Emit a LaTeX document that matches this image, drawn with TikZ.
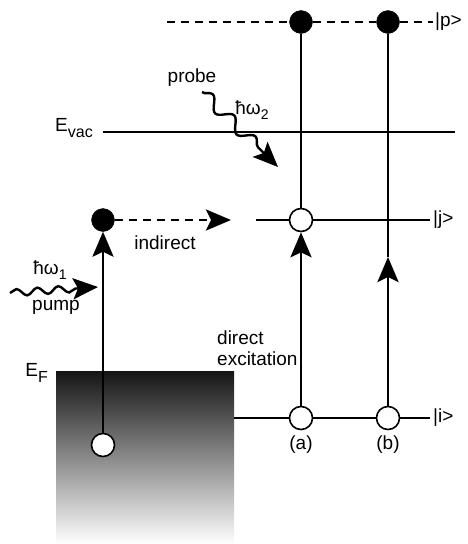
\documentclass[tikz,border=0pt]{standalone}
\usepackage{fontspec}
\setmainfont{Liberation Sans}
\usetikzlibrary{arrows.meta,decorations.pathmorphing,calc}
\newcommand{\lsub}[1]{\raisebox{-0.3em}{\fontsize{16}{16}\selectfont #1}}
\newcommand{\lsubs}[1]{\raisebox{-0.3em}{\fontsize{14}{14}\selectfont #1}}
\begin{document}
\begin{tikzpicture}[x=1pt,y=-1pt,
  lvl/.style={line width=2.8pt},
  dsh/.style={line width=2.8pt,dash pattern=on 8pt off 6pt},
  arrowtip/.style={-{Stealth[length=25pt,width=21pt,inset=5pt]}},
  full/.style={circle,fill=black,draw=black,minimum size=23pt,inner sep=0pt},
  hollow/.style={circle,fill=white,draw=black,line width=1.6pt,minimum size=23pt,inner sep=0pt},
  lbl/.style={font=\fontsize{19}{21}\selectfont, inner sep=0pt},
  wave/.style={line width=2.4pt,decorate}]
\useasboundingbox (0,0) rectangle (468,544);
% metal band
\shade[top color=black!92,bottom color=white] (56,371) rectangle (234,544);
% states
\node[full] (pa) at (301,22) {};
\node[full] (pb) at (388,22) {};
\node[hollow] (ja) at (301,220) {};
\node[hollow] (ia) at (301,418) {};
\node[hollow] (ib) at (388,418) {};
\node[full] (ex) at (103,220) {};
\node[hollow] (h) at (103,445) {};
% free ends
\coordinate (p0) at (167,22);
\coordinate (p1) at (433,22);
\coordinate (v0) at (103,132);
\coordinate (v1) at (455,132);
\coordinate (j0) at (256,220);
\coordinate (j1) at (430,220);
\coordinate (i0) at (234,418);
\coordinate (i1) at (430,418);
\coordinate (ind) at (231,220);
\coordinate (tipb) at (388,257);
% levels
\draw[dsh] (p0) -- (pa); \draw[dsh] (pa) -- (pb); \draw[dsh] (pb) -- (p1);
\draw[lvl] (v0) -- (v1);
\draw[lvl] (j0) -- (ja); \draw[lvl] (ja) -- (j1);
\draw[lvl] (i0) -- (ia); \draw[lvl] (ia) -- (ib); \draw[lvl] (ib) -- (i1);
% transitions
\draw[lvl] (ja) -- (pa);
\draw[lvl,arrowtip] (ia) -- (ja);
\draw[lvl,arrowtip] (ib) -- (tipb);
\draw[lvl] (tipb) -- (pb);
\draw[lvl,arrowtip] (h) -- (ex);
\draw[dsh,arrowtip] (ex) -- (ind);
% photons
\coordinate (w0) at (10,293);
\coordinate (w1) at (98,287);
\draw[wave,arrowtip,decoration={snake,amplitude=3.5pt,segment length=21pt,post length=22pt}] (w0) -- (w1);
\coordinate (q0) at (202,92);
\coordinate (q1) at (278,167);
\draw[wave,arrowtip,decoration={snake,amplitude=6pt,segment length=30pt,post length=22pt}] (q0) -- (q1);
% labels
\node[lbl,anchor=west] (lp) at (435,22) {|p>};
\node[lbl,anchor=west] (lj) at (433,220) {|j>};
\node[lbl,anchor=west] (li) at (433,418) {|i>};
\node[lbl,anchor=east] (lvac) at (93,128) {E\lsub{vac}};
\node[lbl,anchor=east] (lf) at (48,373) {E\lsub{F}};
\node[lbl] (la) at (301,445) {(a)};
\node[lbl] (lb) at (388,445) {(b)};
\node[lbl] (lprobe) at (192,78) {probe};
\node[lbl] (lw2) at (252,110) {ħω\lsubs{2}};
\node[lbl] (lw1) at (50,270) {ħω\lsubs{1}};
\node[lbl] (lpump) at (56,307) {pump};
\node[lbl] (lind) at (165,243) {indirect};
\node[lbl,anchor=north west,align=left] (ldir) at (217,331) {direct\\excitation};
\end{tikzpicture}
\end{document}
